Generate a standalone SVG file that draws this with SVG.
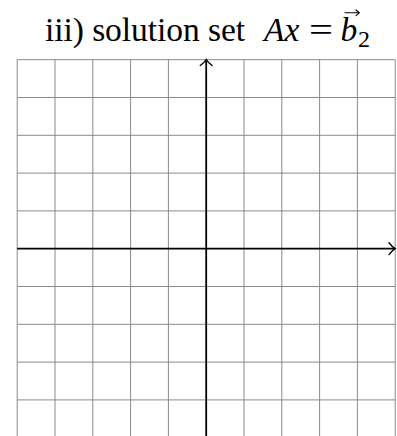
<svg xmlns="http://www.w3.org/2000/svg" width="397" height="436" viewBox="0 0 397 436">
<style>
.grid line{stroke:#8a8a8a;stroke-width:1}
.axis{stroke:#000;stroke-width:1.8;fill:none}
.head{stroke:#000;stroke-width:1.4;fill:none;stroke-linecap:round}
.t{font-family:"Liberation Serif","Times New Roman",serif;font-size:33.5px;fill:#000}
.it{font-style:italic}
</style>
<rect width="397" height="436" fill="#fff"/>
<g id="title">
<text class="t" x="45" y="40.7" textLength="200" lengthAdjust="spacing">iii) solution set</text>
<text class="t it" x="264" y="40.7">Ax</text>
<text class="t" x="309" y="40.7" textLength="24" lengthAdjust="spacingAndGlyphs">=</text>
<text class="t it" x="340.5" y="40.7">b</text>
<text class="t" x="358" y="46.5" style="font-size:24px">2</text>
<path class="head" d="M345,12.8 H359 M356,10 L359.3,12.8 L356,15.6" style="stroke-width:1.1"/>
</g>
<g id="grid" class="grid">
<line x1="17.2" y1="59.7" x2="17.2" y2="436"/>
<line x1="55" y1="59.7" x2="55" y2="436"/>
<line x1="92.8" y1="59.7" x2="92.8" y2="436"/>
<line x1="130.6" y1="59.7" x2="130.6" y2="436"/>
<line x1="168.4" y1="59.7" x2="168.4" y2="436"/>
<line x1="244" y1="59.7" x2="244" y2="436"/>
<line x1="281.8" y1="59.7" x2="281.8" y2="436"/>
<line x1="319.6" y1="59.7" x2="319.6" y2="436"/>
<line x1="357.4" y1="59.7" x2="357.4" y2="436"/>
<line x1="395.2" y1="59.7" x2="395.2" y2="436"/>
<line x1="17.2" y1="59.7" x2="395.2" y2="59.7"/>
<line x1="17.2" y1="97.5" x2="395.2" y2="97.5"/>
<line x1="17.2" y1="135.3" x2="395.2" y2="135.3"/>
<line x1="17.2" y1="173.1" x2="395.2" y2="173.1"/>
<line x1="17.2" y1="210.9" x2="395.2" y2="210.9"/>
<line x1="17.2" y1="286.5" x2="395.2" y2="286.5"/>
<line x1="17.2" y1="324.3" x2="395.2" y2="324.3"/>
<line x1="17.2" y1="362.1" x2="395.2" y2="362.1"/>
<line x1="17.2" y1="399.9" x2="395.2" y2="399.9"/>
</g>
<g id="connectors">
<line class="axis" x1="17.2" y1="248.7" x2="394.5" y2="248.7"/>
<path class="head" d="M389,242.8 Q392.5,247.3 395.2,248.7 Q392.5,250.1 389,254.6"/>
<line class="axis" x1="206.2" y1="436" x2="206.2" y2="60.5"/>
<path class="head" d="M200.3,65.5 Q204.8,62 206.2,59.5 Q207.6,62 212.1,65.5"/>
</g>
</svg>
